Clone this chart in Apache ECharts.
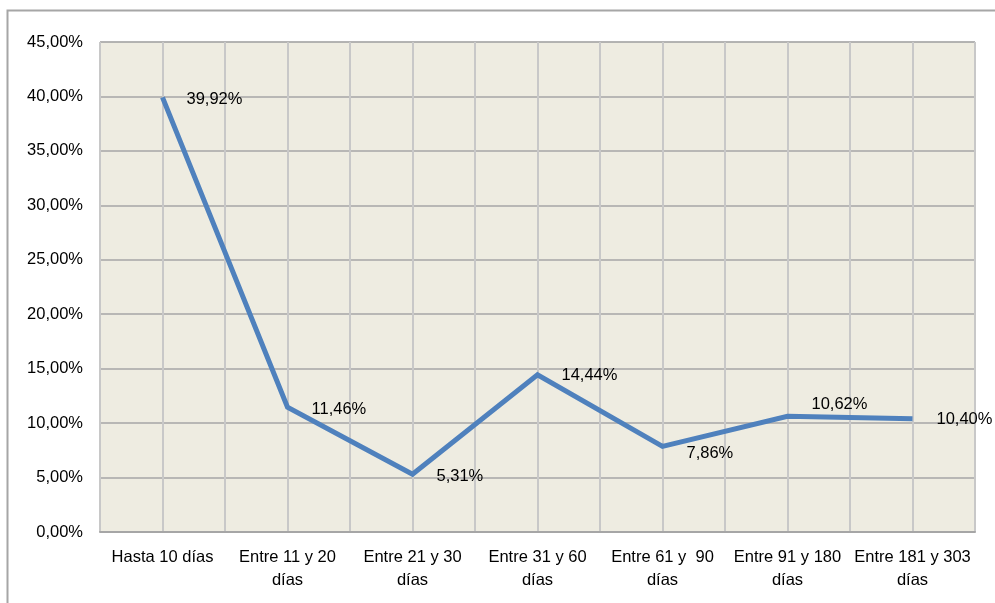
<!DOCTYPE html>
<html>
<head>
<meta charset="utf-8">
<script src="https://cdn.jsdelivr.net/npm/echarts@6/dist/echarts.min.js"></script>
<style>
  html, body { margin: 0; padding: 0; background: #fff; }
  #chart { width: 995px; height: 603px; }
</style>
</head>
<body>
<div id="chart"></div>
<script>
// categorías y valores (porcentaje)
const categorias = ['Hasta 10 días', 'Entre 11 y 20\ndías', 'Entre 21 y 30\ndías', 'Entre 31 y 60\ndías', 'Entre 61 y  90\ndías', 'Entre 91 y 180\ndías', 'Entre 181 y 303\ndías'];
const valores = [39.92, 11.46, 5.31, 14.44, 7.86, 10.62, 10.40];
// desplazamiento de cada etiqueta
const desplazamientos = [[0, 2], [0, 2], [0, 2], [0, 1], [0, 7], [0, -12], [0, 1]];

const fmt = v => v.toFixed(2).replace('.', ',') + '%';
const fuente = '"Liberation Sans", Arial, sans-serif';
const tam = 16.5;

const chart = echarts.init(document.getElementById('chart'));
chart.setOption({
  animation: false,
  backgroundColor: '#fff',
  graphic: [{
    type: 'rect',
    shape: { x: 7.5, y: 10.5, width: 1100, height: 700 },
    style: { fill: 'none', stroke: '#a6a6a6', lineWidth: 2 },
    silent: true
  }],
  grid: { left: 100, right: 20, top: 42, bottom: 71, backgroundColor: '#eeece1', show: true, borderColor: '#bfbfbf', borderWidth: 1 },
  xAxis: [{
    type: 'category',
    data: categorias,
    boundaryGap: true,
    axisTick: { show: false },
    axisLine: { lineStyle: { color: '#a6a6a6', width: 2 } },
    axisLabel: { interval: 0, color: '#000', fontFamily: fuente, fontSize: tam, lineHeight: 23, margin: 14 },
    splitLine: { show: false }
  }, {
    type: 'value',
    min: 0, max: 14, interval: 1,
    position: 'bottom',
    axisLine: { show: false },
    axisTick: { show: false },
    axisLabel: { show: false },
    splitLine: { show: true, lineStyle: { color: '#c8c8c8', width: 2 } }
  }],
  yAxis: {
    type: 'value',
    min: 0, max: 45, interval: 5,
    axisLine: { show: false },
    axisTick: { show: false },
    axisLabel: { formatter: fmt, color: '#000', fontFamily: fuente, fontSize: tam, margin: 17 },
    splitLine: { lineStyle: { color: '#a6a6a6', width: 1.5 } }
  },
  series: [{
    type: 'line',
    xAxisIndex: 0,
    data: valores.map((v, i) => ({
      value: v,
      label: { offset: desplazamientos[i] }
    })),
    showSymbol: true,
    showAllSymbol: true,
    symbol: 'circle',
    symbolSize: 2,
    itemStyle: { color: 'rgba(0,0,0,0)', borderWidth: 0 },
    lineStyle: { color: '#4f81bd', width: 5, join: 'miter' },
    label: {
      show: true,
      position: 'right',
      distance: 23,
      color: '#000',
      opacity: 1,
      fontFamily: fuente,
      fontSize: tam,
      formatter: p => fmt(p.value)
    },
    z: 5
  }]
});
</script>
</body>
</html>
